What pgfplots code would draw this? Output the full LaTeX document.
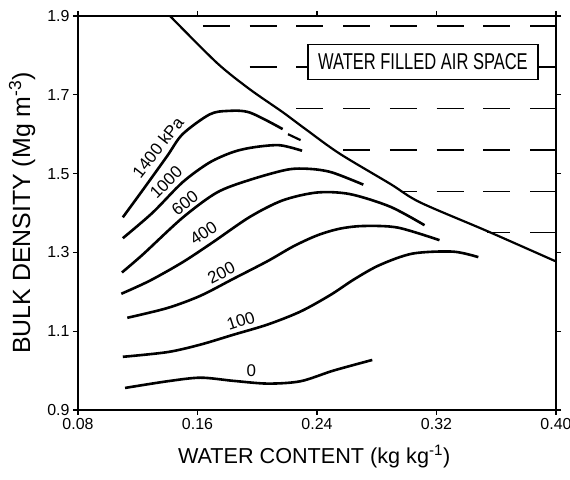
\documentclass[border=0pt]{standalone}
\usepackage{fontspec}
\setmainfont{Liberation Sans}
\usepackage{graphicx}
\usepackage{pgfplots}
\pgfplotsset{compat=1.18}

\newcommand{\lbl}{\fontsize{17}{17}\selectfont}

\begin{document}
\begin{tikzpicture}
\useasboundingbox (-78bp,-70bp) rectangle (492bp,410bp);
\begin{axis}[
  at={(0,0)}, anchor=south west,
  scale only axis, width=478bp, height=394bp,
  xmin=0.08, xmax=0.40, ymin=0.9, ymax=1.9,
  xtick={0.08,0.16,0.24,0.32,0.40},
  ytick={0.9,1.1,1.3,1.5,1.7,1.9},
  scaled ticks=false,
  tick align=outside, major tick length=5bp,
  tick style={line width=1.2bp, black},
  axis line style={line width=1.6bp},
  /pgf/number format/assume math mode=true,
  tick label style={font=\fontsize{16}{16}\selectfont},
  xticklabel style={/pgf/number format/fixed, /pgf/number format/fixed zerofill, /pgf/number format/precision=2},
  yticklabel style={/pgf/number format/fixed, /pgf/number format/fixed zerofill, /pgf/number format/precision=1},
  xlabel={WATER CONTENT (kg kg\textsuperscript{-1})},
  ylabel={BULK DENSITY (Mg m\textsuperscript{-3})},
  xlabel style={font=\fontsize{21.7}{22}\selectfont, at={(axis description cs:0.494,-0.135)}, anchor=base},
  ylabel style={font=\fontsize{25}{25}\selectfont, at={(axis description cs:-0.10,0.5)}, anchor=base},
  curve/.style={black, line width=2.6bp, smooth, tension=0.5},
  row/.style={black, line width=1.6bp, dash pattern=on 27bp off 19.75bp},
]

% water filled air space: dashed rows right of the saturation line
\addplot[row] coordinates {(0.16367,1.875) (0.40,1.875)};
\addplot[row] coordinates {(0.19496,1.770) (0.40,1.770)};
\addplot[row] coordinates {(0.22625,1.665) (0.40,1.665)};
\addplot[row] coordinates {(0.25754,1.560) (0.40,1.560)};
\addplot[row, dash phase=13bp] coordinates {(0.29754,1.455) (0.40,1.455)};
\addplot[row, dash phase=3.5bp] coordinates {(0.35376,1.350) (0.40,1.350)};

% saturation line
\addplot[black, line width=2.2bp, smooth, tension=0.5] coordinates {
  (0.1416,1.900) (0.173,1.781) (0.195,1.714) (0.217,1.656) (0.233,1.611)
  (0.255,1.551) (0.289,1.474) (0.309,1.427) (0.354,1.354) (0.400,1.277)};

% compaction curves, one per applied stress
\addplot[curve] coordinates {
  (0.110,1.389) (0.1235,1.459) (0.1396,1.544) (0.150,1.600) (0.168,1.650)
  (0.180,1.659) (0.195,1.655) (0.217,1.613)};
\addplot[black, line width=2.2bp] coordinates {(0.2206,1.600) (0.229,1.585)};

\addplot[curve] coordinates {
  (0.110,1.336) (0.130,1.401) (0.150,1.478) (0.168,1.528) (0.184,1.555)
  (0.198,1.567) (0.215,1.572) (0.230,1.558)};

\addplot[curve] coordinates {
  (0.1094,1.249) (0.1235,1.295) (0.150,1.388) (0.173,1.452) (0.195,1.484)
  (0.220,1.510) (0.235,1.512) (0.250,1.503) (0.271,1.472)};

\addplot[curve] coordinates {
  (0.109,1.195) (0.128,1.228) (0.150,1.275) (0.170,1.325) (0.195,1.390)
  (0.217,1.432) (0.240,1.452) (0.262,1.448) (0.289,1.416) (0.312,1.369)};

\addplot[curve] coordinates {
  (0.113,1.134) (0.140,1.159) (0.162,1.190) (0.184,1.233) (0.207,1.278)
  (0.224,1.315) (0.240,1.343) (0.255,1.360) (0.271,1.367) (0.294,1.363)
  (0.322,1.331)};

\addplot[curve] coordinates {
  (0.110,1.035) (0.140,1.047) (0.162,1.066) (0.184,1.091) (0.207,1.117)
  (0.229,1.150) (0.249,1.192) (0.265,1.232) (0.282,1.268) (0.304,1.297)
  (0.331,1.302) (0.348,1.288)};

\addplot[curve] coordinates {
  (0.1115,0.956) (0.140,0.973) (0.162,0.982) (0.184,0.974) (0.207,0.967)
  (0.229,0.973) (0.251,1.000) (0.277,1.027)};

% curve labels
\node[rotate=52, inner sep=0pt, font=\lbl] at (axis cs:0.1335,1.567) {1400 kPa};
\node[rotate=45, inner sep=0pt, font=\lbl] at (axis cs:0.139,1.478) {1000};
\node[rotate=38, inner sep=0pt, font=\lbl] at (axis cs:0.1516,1.425) {600};
\node[rotate=33, inner sep=0pt, font=\lbl] at (axis cs:0.164,1.350) {400};
\node[rotate=27, inner sep=0pt, font=\lbl] at (axis cs:0.176,1.248) {200};
\node[rotate=18, inner sep=0pt, font=\lbl] at (axis cs:0.189,1.126) {100};
\node[inner sep=0pt, font=\lbl] at (axis cs:0.196,0.999) {0};

\node[draw, line width=1.2bp, fill=white, minimum width=230bp, minimum height=35bp, inner sep=0pt]
  at (axis cs:0.3109,1.783) {\scalebox{0.72}[1]{\fontsize{23}{23}\selectfont WATER FILLED AIR SPACE}};
\end{axis}
\end{tikzpicture}
\end{document}
